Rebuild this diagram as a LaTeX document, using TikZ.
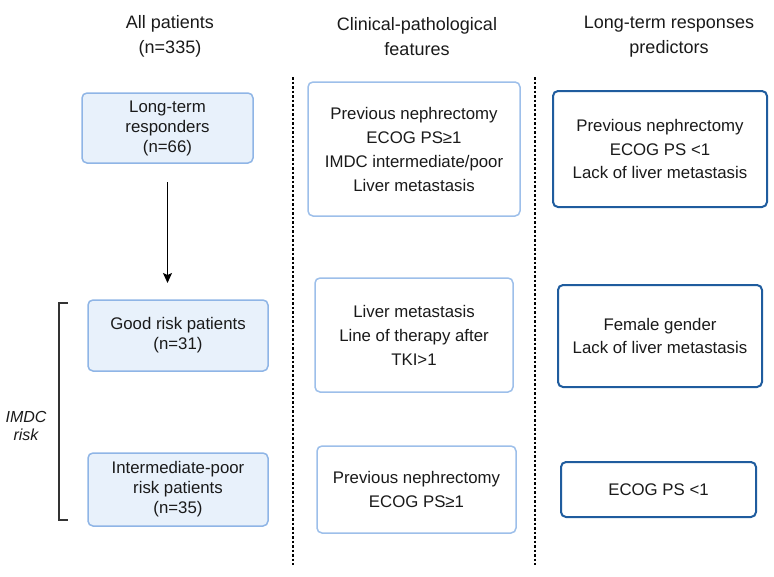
\documentclass[tikz,border=0pt]{standalone}
\usepackage{fontspec}
\setmainfont{Liberation Sans}
\usetikzlibrary{arrows.meta}
\definecolor{lbfill}{HTML}{E8F1FB}
\definecolor{lbdraw}{HTML}{8FB5E6}
\definecolor{mbdraw}{HTML}{9DBFEA}
\definecolor{dbdraw}{HTML}{1F5C9E}
\definecolor{brk}{HTML}{333333}
\definecolor{txt}{HTML}{1A1A1A}
\tikzset{
  boxbase/.style={rounded corners=5pt, align=center, inner sep=0pt, text=txt},
  lbox/.style={boxbase, draw=lbdraw, fill=lbfill, line width=1.5pt, font=\fontsize{16.8}{20}\selectfont},
  mbox/.style={boxbase, draw=mbdraw, fill=white, line width=1.5pt, font=\fontsize{16.8}{24}\selectfont},
  rbox/.style={boxbase, draw=dbdraw, fill=white, line width=2pt, font=\fontsize{16.8}{23.5}\selectfont},
  header/.style={align=center, inner sep=0pt, text=txt, font=\fontsize{18}{25}\selectfont},
  divider/.style={line width=1.6pt, dash pattern=on 2.5pt off 2pt},
}
\begin{document}
\begin{tikzpicture}[x=1pt, y=-1pt]
\useasboundingbox (0,0) rectangle (774,576);
% headers
\node[header] (h1) at (170,36.5) {All patients\\(n=335)};
\node[header] (h2) at (417,36.5) {Clinical-pathological\\features};
\node[header] (h3) at (669,36.5) {Long-term responses\\predictors};
% dividers
\coordinate (d1t) at (293,77);
\coordinate (d1b) at (293,565);
\coordinate (d2t) at (535,77);
\coordinate (d2b) at (535,565);
\draw[divider] (d1t) -- (d1b);
\draw[divider] (d2t) -- (d2b);
% left column
\node[lbox, minimum width=171pt, minimum height=70pt] (ltr) at (167.5,128) {Long-term\\responders\\(n=66)};
\node[lbox, minimum width=180pt, minimum height=71pt] (good) at (178,335.5) {Good risk patients\\(n=31)};
\node[lbox, minimum width=180pt, minimum height=73pt] (ipoor) at (178,489.5) {Intermediate-poor\\risk patients\\(n=35)};
\coordinate (astart) at (167.5,182);
\coordinate (aend) at (167.5,283);
\draw[line width=1.3pt, -{Stealth[length=10pt,width=9pt,inset=2pt]}] (astart) -- (aend);
% bracket
\coordinate (bt) at (68,303);
\coordinate (bb) at (68,520);
\draw[brk, line width=1.5pt] (bt) -- ++(-9,0) |- (bb);
\node[align=center, inner sep=0pt, text=txt, font=\fontsize{16}{18}\itshape\selectfont] (imdc) at (26,426) {IMDC\\risk};
% middle column
\node[mbox, minimum width=212pt, minimum height=134pt] (m1) at (414,149) {Previous nephrectomy\\ECOG PS≥1\\IMDC intermediate/poor\\Liver metastasis};
\node[mbox, minimum width=198pt, minimum height=114pt] (m2) at (414,335) {Liver metastasis\\Line of therapy after\\TKI>1};
\node[mbox, minimum width=199pt, minimum height=87pt] (m3) at (416.5,489.5) {Previous nephrectomy\\ECOG PS≥1};
% right column
\node[rbox, minimum width=214pt, minimum height=116pt] (r1) at (660,149) {Previous nephrectomy\\ECOG PS <1\\Lack of liver metastasis};
\node[rbox, minimum width=204pt, minimum height=102pt] (r2) at (660,336) {Female gender\\Lack of liver metastasis};
\node[rbox, minimum width=195pt, minimum height=55pt] (r3) at (658.5,489.5) {ECOG PS <1};
\end{tikzpicture}
\end{document}
